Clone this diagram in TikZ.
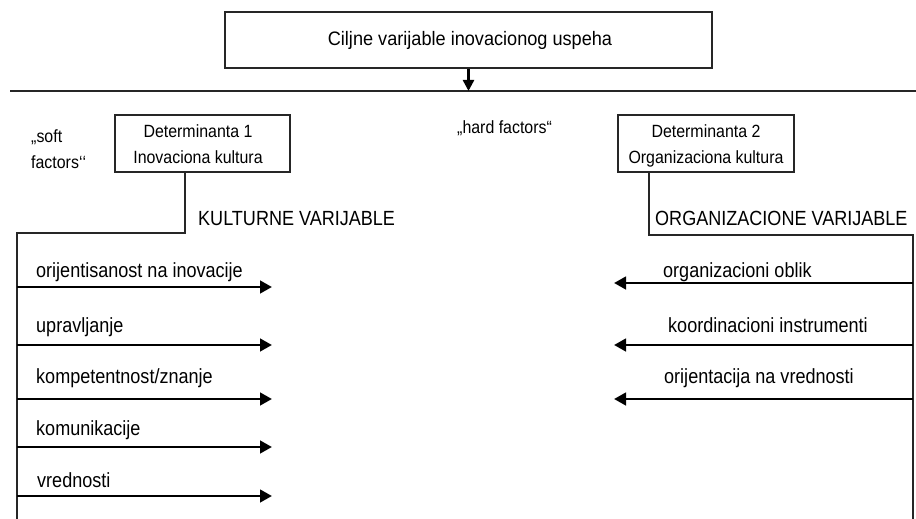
\documentclass[tikz,border=0pt]{standalone}
\usepackage{fontspec}
\setmainfont{Liberation Sans}
\newfontfamily\titlefont{Liberation Sans}[FakeStretch=0.93]
\newfontfamily\lblfont{Liberation Sans}[FakeStretch=0.88]
\newfontfamily\boxfont{Liberation Sans}[FakeStretch=0.9]
\usetikzlibrary{arrows.meta}
\begin{document}
\begin{tikzpicture}[x=1pt,y=-1pt,
  thin line/.style={line width=1.3pt,draw=black!85},
  boxnode/.style={draw=black!85,line width=1.3pt,inner sep=0pt},
  lbl/.style={anchor=base west,inner sep=0pt,font=\lblfont\fontsize{20.5}{22}\selectfont},
  smalllbl/.style={anchor=base west,inner sep=0pt,font=\boxfont\fontsize{17.7}{26}\selectfont},
  boxtext/.style={inner sep=0pt,align=center,font=\boxfont\fontsize{17.7}{26}\selectfont},
  bigarrow/.style={line width=2.8pt,-{Triangle[length=12pt,width=12.5pt]}},
]
\useasboundingbox (0,0) rectangle (916,519);
\fill[white] (0,0) rectangle (916,519);

% top box
\node[boxnode,minimum width=487pt,minimum height=56pt] (top) at (468.5,40) {};
\node[anchor=base,inner sep=0pt,font=\titlefont\fontsize{19.5}{22}\selectfont] (toptext) at (470,46) {Ciljne varijable inovacionog uspeha};

% horizontal line
\coordinate (hl) at (10,91);
\coordinate (hr) at (916,91);
\draw[thin line] (hl) -- (hr);
\coordinate (hm) at (top.south |- hl);
\draw[line width=2.4pt,-{Triangle[length=11pt,width=11pt]}] (top.south) -- (hm);

% determinant boxes
\node[boxnode,minimum width=175pt,minimum height=57pt] (d1) at (202.5,143.5) {};
\node[boxtext,anchor=base] (d1a) at (198,137) {Determinanta 1};
\node[boxtext,anchor=base] (d1b) at (198,163) {Inovaciona kultura};

\node[boxnode,minimum width=176pt,minimum height=57pt] (d2) at (706,143.5) {};
\node[boxtext,anchor=base] (d2a) at (706,137) {Determinanta 2};
\node[boxtext,anchor=base] (d2b) at (706,163) {Organizaciona kultura};

% factor labels
\node[smalllbl] (soft1) at (31,142) {„soft};
\node[smalllbl] (soft2) at (31,168) {factors‘\kern0pt‘};
\node[smalllbl] (hard) at (457,133) {„hard factors“};

\node[lbl] (kv) at (198,225) {KULTURNE VARIJABLE};
\node[lbl] (ov) at (655,225) {ORGANIZACIONE VARIJABLE};

% left tree
\coordinate (lc) at (185,233);
\coordinate (lt) at (17,233);
\coordinate (lb) at (17,519);
\draw[thin line] (d1.south -| lc) -- (lc) -- (lt) -- (lb);

% right tree
\coordinate (rc) at (649,235);
\coordinate (rt) at (913,235);
\coordinate (rb) at (913,519);
\draw[thin line] (d2.south -| rc) -- (rc) -- (rt) -- (rb);

% left arrows
\coordinate (la1) at (17,287); \coordinate (lz1) at (272,287);
\coordinate (la2) at (17,345); \coordinate (lz2) at (272,345);
\coordinate (la3) at (17,399); \coordinate (lz3) at (272,399);
\coordinate (la4) at (17,447); \coordinate (lz4) at (272,447);
\coordinate (la5) at (17,496); \coordinate (lz5) at (272,496);
\foreach \i in {1,...,5}{\draw[bigarrow] (la\i) -- (lz\i);}
\node[lbl] (t1) at (36,277) {orijentisanost na inovacije};
\node[lbl] (t2) at (36,332) {upravljanje};
\node[lbl] (t3) at (36,383) {kompetentnost/znanje};
\node[lbl] (t4) at (36,435) {komunikacije};
\node[lbl] (t5) at (37,487) {vrednosti};

% right arrows
\coordinate (ra1) at (913,283); \coordinate (rz1) at (614,283);
\coordinate (ra2) at (913,345); \coordinate (rz2) at (614,345);
\coordinate (ra3) at (913,399); \coordinate (rz3) at (614,399);
\foreach \i in {1,2,3}{\draw[bigarrow] (ra\i) -- (rz\i);}
\node[lbl] (r1) at (663,277) {organizacioni oblik};
\node[lbl] (r2) at (668,332) {koordinacioni instrumenti};
\node[lbl] (r3) at (664,383) {orijentacija na vrednosti};
\end{tikzpicture}
\end{document}
